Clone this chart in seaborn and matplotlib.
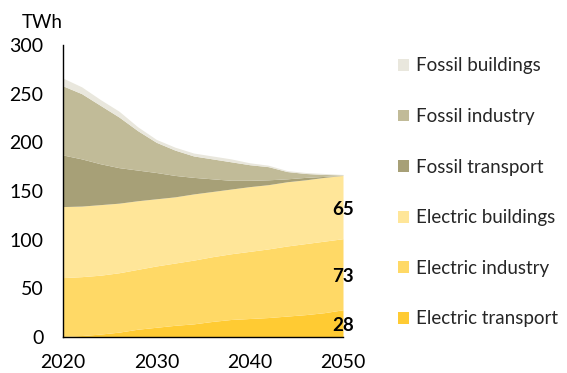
import matplotlib
matplotlib.use("Agg")
import matplotlib.pyplot as plt
from matplotlib.patches import Patch
import seaborn as sns

years = [2020, 2022, 2024, 2026, 2028, 2030, 2032, 2034, 2036, 2038, 2040, 2042, 2044, 2046, 2048, 2050]
electric_transport = [0.5, 1.5, 3, 5, 8, 10, 12, 13.5, 16, 18, 19, 20, 21.5, 23, 25, 28]
electric_industry = [60.5, 60.5, 60.5, 61, 61.5, 63, 64, 65.5, 66.5, 67.5, 69, 70.5, 72, 73, 73.5, 73]
electric_buildings = [73, 72.5, 72.5, 71.5, 70.5, 69, 68, 68, 67, 66.5, 66.5, 66, 66, 65.5, 65.5, 65]
fossil_transport = [53, 48.5, 42, 36.5, 31.5, 27, 22, 17, 13, 9, 6.5, 5, 3, 2.5, 1, 0]
fossil_industry = [71, 67, 60, 52, 40.5, 31, 26, 22, 20.5, 19, 16, 13.5, 7.5, 4, 2, 0.5]
fossil_buildings = [8, 7, 6, 6, 4, 3, 3, 3, 3, 3, 2, 1.5, 1, 1, 1, 0.5]

series_names = ["Electric transport", "Electric industry", "Electric buildings",
                "Fossil transport", "Fossil industry", "Fossil buildings"]
colors = ["#ffcb33", "#ffd966", "#ffe699", "#a7a077", "#c1bb98", "#e9e7dd"]
end_labels = ["28", "73", "65"]
x_ticks = [2020, 2030, 2040, 2050]
y_ticks = [0, 50, 100, 150, 200, 250, 300]

sns.set_theme(style="white")
plt.rcParams["font.family"] = ["Lato", "DejaVu Sans"]

fig = plt.figure(figsize=(5.67, 3.73), dpi=100)
ax = fig.add_axes([63/567, 1-337/373, 280/567, 292/373])

data = [electric_transport, electric_industry, electric_buildings,
        fossil_transport, fossil_industry, fossil_buildings]
ax.stackplot(years, data, colors=colors, linewidth=0)

ax.set_xlim(2020, 2050)
ax.set_ylim(0, 300)
ax.set_xticks(x_ticks)
ax.set_yticks(y_ticks)
ax.tick_params(axis="both", length=0, labelsize=14, colors="#000000")
ax.tick_params(axis="y", pad=14)
ax.tick_params(axis="x", pad=12)
for s in ["top", "right"]:
    ax.spines[s].set_visible(False)
for s in ["left", "bottom"]:
    ax.spines[s].set_color("#000000")
    ax.spines[s].set_linewidth(1.0)
ax.grid(False)

# End labels at segment midpoints
cum = 0
for vals, lab in zip(data[:3], end_labels):
    mid = cum + vals[-1] / 2
    ax.text(2050, mid - 2.5, lab, ha="center", va="center", fontsize=13.5,
            fontweight="bold", color="#000000", clip_on=False)
    cum += vals[-1]

fig.text(42/567, 1-23/373, "TWh", ha="center", va="center", fontsize=13.5, color="#000000")

handles = [Patch(facecolor=c, edgecolor="none") for c in colors[::-1]]
fig.legend(handles, series_names[::-1], loc="upper left",
           bbox_to_anchor=(390/567, 1-50/373), frameon=False, fontsize=13.5,
           handlelength=0.6, handleheight=0.6, handletextpad=0.4,
           labelspacing=1.79, borderaxespad=0)

fig.savefig("out.png", dpi=100)
